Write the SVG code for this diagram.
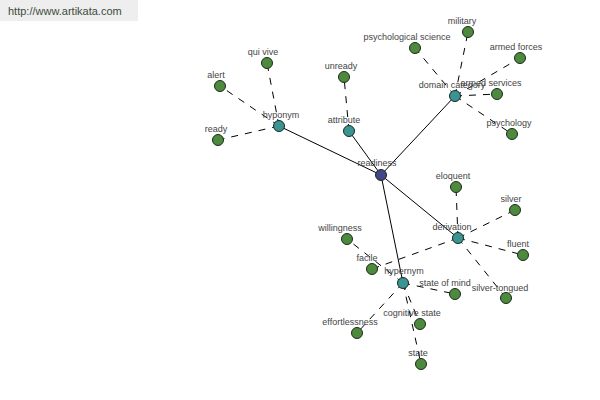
<svg xmlns="http://www.w3.org/2000/svg" width="600" height="400" viewBox="0 0 600 400">
<style>
.s{stroke:#000;stroke-width:1;fill:none}
.d{stroke:#000;stroke-width:1;fill:none;stroke-dasharray:7,7}
.n circle{stroke:#1a2a1a;stroke-width:1}
.leaf circle{fill:#4e8a3e}
.cat circle{fill:#3a9494}
.root circle{fill:#45458a}
text{font-family:"Liberation Sans",Arial,sans-serif;font-size:9px;fill:#444;text-anchor:middle}
</style>
<rect width="600" height="400" fill="#fff"/>
<rect x="0" y="0" width="138" height="21" fill="#eeeeee"/>
<text x="8" y="15" style="text-anchor:start;font-size:11px;fill:#3c4c3c">http://www.artikata.com</text>
<g id="connectors">
<line class="s" x1="381" y1="175" x2="279" y2="126"/>
<line class="s" x1="381" y1="175" x2="349" y2="131"/>
<line class="s" x1="381" y1="175" x2="455" y2="96"/>
<line class="s" x1="381" y1="175" x2="458" y2="238"/>
<line class="s" x1="381" y1="175" x2="403" y2="283"/>
<line class="d" x1="279" y1="126" x2="220" y2="86"/>
<line class="d" x1="279" y1="126" x2="267" y2="63"/>
<line class="d" x1="279" y1="126" x2="218" y2="140"/>
<line class="d" x1="349" y1="131" x2="344" y2="77"/>
<line class="d" x1="455" y1="96" x2="415" y2="48"/>
<line class="d" x1="455" y1="96" x2="468" y2="32"/>
<line class="d" x1="455" y1="96" x2="520" y2="58"/>
<line class="d" x1="455" y1="96" x2="497" y2="94"/>
<line class="d" x1="455" y1="96" x2="512" y2="134"/>
<line class="d" x1="458" y1="238" x2="456" y2="187"/>
<line class="d" x1="458" y1="238" x2="515" y2="210"/>
<line class="d" x1="458" y1="238" x2="523" y2="255"/>
<line class="d" x1="458" y1="238" x2="506" y2="298"/>
<line class="d" x1="458" y1="238" x2="372" y2="269"/>
<line class="d" x1="403" y1="283" x2="347" y2="239"/>
<line class="d" x1="403" y1="283" x2="455" y2="294"/>
<line class="d" x1="403" y1="283" x2="420" y2="324"/>
<line class="d" x1="403" y1="283" x2="357" y2="333"/>
<line class="d" x1="403" y1="283" x2="421" y2="364"/>
</g>
<g id="n-alert" class="n leaf"><circle cx="220" cy="86" r="5.5"/><text x="216" y="78">alert</text></g>
<g id="n-quivive" class="n leaf"><circle cx="267" cy="63" r="5.5"/><text x="263" y="55">qui vive</text></g>
<g id="n-ready" class="n leaf"><circle cx="218" cy="140" r="5.5"/><text x="216" y="132">ready</text></g>
<g id="n-unready" class="n leaf"><circle cx="344" cy="77" r="5.5"/><text x="341" y="69">unready</text></g>
<g id="n-psychsci" class="n leaf"><circle cx="415" cy="48" r="5.5"/><text x="407" y="40">psychological science</text></g>
<g id="n-military" class="n leaf"><circle cx="468" cy="32" r="5.5"/><text x="462" y="24">military</text></g>
<g id="n-armedforces" class="n leaf"><circle cx="520" cy="58" r="5.5"/><text x="516" y="50">armed forces</text></g>
<g id="n-psychology" class="n leaf"><circle cx="512" cy="134" r="5.5"/><text x="509" y="126">psychology</text></g>
<g id="n-eloquent" class="n leaf"><circle cx="456" cy="187" r="5.5"/><text x="453" y="179">eloquent</text></g>
<g id="n-silver" class="n leaf"><circle cx="515" cy="210" r="5.5"/><text x="511" y="202">silver</text></g>
<g id="n-fluent" class="n leaf"><circle cx="523" cy="255" r="5.5"/><text x="518" y="247">fluent</text></g>
<g id="n-silvertongued" class="n leaf"><circle cx="506" cy="298" r="5.5"/><text x="500" y="291">silver-tongued</text></g>
<g id="n-willingness" class="n leaf"><circle cx="347" cy="239" r="5.5"/><text x="340" y="231">willingness</text></g>
<g id="n-facile" class="n leaf"><circle cx="372" cy="269" r="5.5"/><text x="367" y="261">facile</text></g>
<g id="n-stateofmind" class="n leaf"><circle cx="455" cy="294" r="5.5"/><text x="445" y="286">state of mind</text></g>
<g id="n-cognitivestate" class="n leaf"><circle cx="420" cy="324" r="5.5"/><text x="412" y="316">cognitive state</text></g>
<g id="n-effortlessness" class="n leaf"><circle cx="357" cy="333" r="5.5"/><text x="350" y="325">effortlessness</text></g>
<g id="n-state" class="n leaf"><circle cx="421" cy="364" r="5.5"/><text x="418" y="356">state</text></g>
<g id="n-hyponym" class="n cat"><circle cx="279" cy="126" r="5.5"/><text x="281" y="118">hyponym</text></g>
<g id="n-attribute" class="n cat"><circle cx="349" cy="131" r="5.5"/><text x="344" y="123">attribute</text></g>
<g id="n-domaincategory" class="n cat"><circle cx="455" cy="96" r="5.5"/><text x="452" y="88">domain category</text></g>
<g id="n-derivation" class="n cat"><circle cx="458" cy="238" r="5.5"/><text x="452" y="230">derivation</text></g>
<g id="n-hypernym" class="n cat"><circle cx="403" cy="283" r="5.5"/><text x="404" y="274">hypernym</text></g>
<g id="n-armedservices" class="n leaf"><circle cx="497" cy="94" r="5.5"/><text x="491" y="86">armed services</text></g>
<g id="n-readiness" class="n root"><circle cx="381" cy="175" r="5.5"/><text x="377" y="166">readiness</text></g>
</svg>
